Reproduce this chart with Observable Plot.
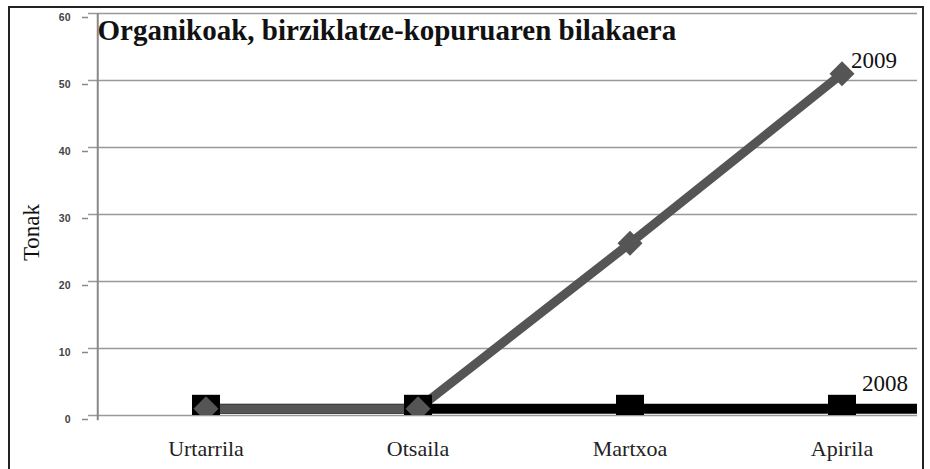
<!DOCTYPE html>
<html>
<head>
<meta charset="utf-8">
<script src="https://cdn.jsdelivr.net/npm/d3@7"></script>
<script src="https://cdn.jsdelivr.net/npm/@observablehq/plot@0.6"></script>
<style>
  html, body { margin: 0; padding: 0; background: #fff; overflow: hidden; }
  #wrap { position: relative; width: 930px; height: 469px; overflow: hidden; }
  #border { position: absolute; left: 8px; top: 6px; width: 912px; height: 480px;
            border: 2.5px solid #222; border-bottom: none; pointer-events: none; }
</style>
</head>
<body>
<div id="wrap"><div id="border"></div></div>
<script>
const months = ["Urtarrila", "Otsaila", "Martxoa", "Apirila", "Maiatza"];
const shownMonths = ["Urtarrila", "Otsaila", "Martxoa", "Apirila"];
const tonak2008 = [1, 1, 1, 1, 1];
const tonak2009 = [1, 1, 25.7, 51, null];
const yTicks = [0, 10, 20, 30, 40, 50, 60];
const title = "Organikoak, birziklatze-kopuruaren bilakaera";
const yLabel = "Tonak";

const rows2008 = months.map((m, i) => ({month: m, value: tonak2008[i], serie: "2008"}));
const rows2009 = months.map((m, i) => ({month: m, value: tonak2009[i], serie: "2009"})).filter(d => d.value != null);

const step = 216.5;
const left = 88;
const half = step / 2;

const diamond = {draw(ctx, size) { const s = Math.sqrt(size) / 2; ctx.moveTo(0, -s); ctx.lineTo(s, 0); ctx.lineTo(0, s); ctx.lineTo(-s, 0); ctx.closePath(); }};
const square = {draw(ctx, size) { const s = Math.sqrt(size) / 2; ctx.rect(-s, -s, 2 * s, 2 * s); }};

const serif = "'Liberation Serif', serif";

const chart = Plot.plot({
  width: 930,
  height: 469,
  marginLeft: left,
  marginRight: 13,
  marginTop: 13,
  marginBottom: 54,
  style: {background: "transparent", overflow: "hidden"},
  x: {type: "band", domain: months, range: [left, left + months.length * step], axis: null},
  y: {domain: [0, 60], axis: null},
  marks: [
    Plot.gridY(yTicks, {stroke: "#999", strokeOpacity: 1, strokeWidth: 1.5}),
    Plot.ruleX([months[0]], {x: d => d, dx: -half, y1: -0.8, y2: 60, stroke: "#888", strokeWidth: 2}),
    Plot.ruleX(months.slice(1), {x: d => d, dx: -half, y1: -0.8, y2: 0, stroke: "#999", strokeWidth: 1.2, clip: true}),
    Plot.axisY(yTicks, {tickSize: 6, tickPadding: 12, stroke: "#888", strokeWidth: 1.5, fontFamily: "'Liberation Sans', sans-serif", fontWeight: "bold", fontSize: 10.5, fill: "#444", dy: 4, label: null}),
    Plot.text(shownMonths, {x: d => d, frameAnchor: "bottom", lineAnchor: "bottom", dy: 40, fontFamily: serif, fontSize: 22, fill: "#222"}),
    Plot.line(rows2008, {x: "month", y: "value", stroke: "#000", strokeWidth: 10, clip: true}),
    Plot.line(rows2009, {x: "month", y: "value", stroke: "#555", strokeWidth: 9, clip: true}),
    Plot.dot(rows2008, {x: "month", y: "value", symbol: square, r: 15.8, fill: "#000", stroke: null, clip: true}),
    Plot.dot(rows2009, {x: "month", y: "value", symbol: diamond, r: 14.1, fill: "#555", stroke: null, clip: true}),
    Plot.text(rows2009.slice(-1), {x: "month", y: "value", text: "serie", textAnchor: "start", lineAnchor: "bottom", dx: 9, dy: -6, fontFamily: serif, fontSize: 23, fill: "#111"}),
    Plot.text(rows2008.filter(d => d.month === "Apirila"), {x: "month", y: "value", text: "serie", textAnchor: "start", lineAnchor: "bottom", dx: 20, dy: -18, fontFamily: serif, fontSize: 23, fill: "#111"}),
    Plot.text([title], {frameAnchor: "top-left", textAnchor: "start", lineAnchor: "bottom", dx: 9, dy: 26, fontFamily: serif, fontWeight: "bold", fontSize: 29, fill: "#111"}),
    Plot.text([yLabel], {frameAnchor: "left", rotate: -90, textAnchor: "middle", lineAnchor: "bottom", dx: -50, dy: 18, fontFamily: serif, fontSize: 23, fill: "#111"})
  ]
});
document.getElementById("wrap").prepend(chart);
</script>
</body>
</html>
